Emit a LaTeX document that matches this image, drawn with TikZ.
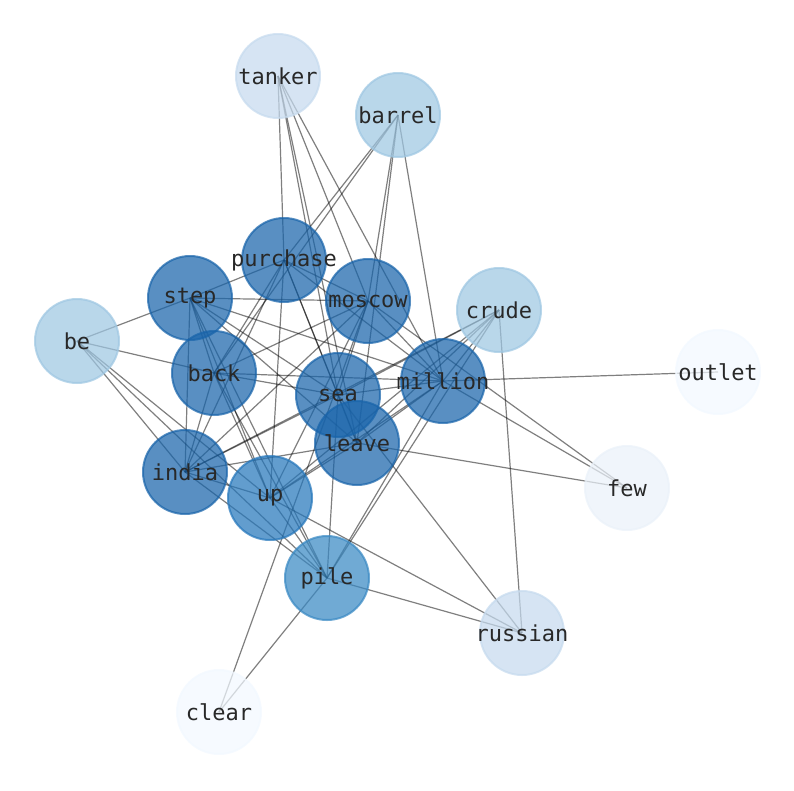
\documentclass[tikz,border=0pt]{standalone}
\usepackage{fontspec}
\setmonofont{DejaVu Sans Mono}
\definecolor{cdark}{RGB}{25,100,170}
\definecolor{cup}{RGB}{38,119,187}
\definecolor{cpile}{RGB}{57,137,195}
\definecolor{clight}{RGB}{158,199,226}
\definecolor{cpale}{RGB}{198,218,238}
\definecolor{cfaint}{RGB}{234,241,249}
\definecolor{cwhite}{RGB}{242,248,255}
\definecolor{cword}{RGB}{40,40,40}
\pgfdeclarelayer{edges}
\pgfsetlayers{edges,main}
\begin{document}
\begin{tikzpicture}[x=1pt, y=-1pt,
  word/.style={circle, minimum size=84pt, inner sep=0pt, line width=2pt,
    draw=#1, fill=#1, fill opacity=0.72, draw opacity=0.72, text opacity=1,
    text=cword, font=\ttfamily\fontsize{22}{26}\selectfont},
  link/.style={draw=black, draw opacity=0.5, line width=1.2pt}]
\useasboundingbox (0,0) rectangle (794,790);
\node[word=cpale] (tanker) at (278,76){\makebox[0pt]{tanker}};
\node[word=clight] (barrel) at (398,115){\makebox[0pt]{barrel}};
\node[word=cdark] (purchase) at (284,260){\makebox[0pt]{purchase}};
\node[word=cdark] (step) at (190,298){\makebox[0pt]{step}};
\node[word=cdark] (moscow) at (368,301){\makebox[0pt]{moscow}};
\node[word=clight] (crude) at (499,310){\makebox[0pt]{crude}};
\node[word=clight] (be) at (77,341){\makebox[0pt]{be}};
\node[word=cdark] (back) at (214,373){\makebox[0pt]{back}};
\node[word=cdark] (sea) at (338,395){\makebox[0pt]{sea}};
\node[word=cdark] (million) at (443,381){\makebox[0pt]{million}};
\node[word=cwhite] (outlet) at (718,372){\makebox[0pt]{outlet}};
\node[word=cdark] (leave) at (357,443){\makebox[0pt]{leave}};
\node[word=cdark] (india) at (185,472){\makebox[0pt]{india}};
\node[word=cup] (up) at (270,498){\makebox[0pt]{up}};
\node[word=cfaint] (few) at (627,488){\makebox[0pt]{few}};
\node[word=cpile] (pile) at (327,578){\makebox[0pt]{pile}};
\node[word=cpale] (russian) at (522,633){\makebox[0pt]{russian}};
\node[word=cwhite] (clear) at (219,712){\makebox[0pt]{clear}};
\begin{pgfonlayer}{edges}
\draw[link] (tanker.center) -- (purchase.center);
\draw[link] (tanker.center) -- (sea.center);
\draw[link] (tanker.center) -- (leave.center);
\draw[link] (tanker.center) -- (moscow.center);
\draw[link] (tanker.center) -- (million.center);
\draw[link] (barrel.center) -- (purchase.center);
\draw[link] (barrel.center) -- (back.center);
\draw[link] (barrel.center) -- (moscow.center);
\draw[link] (barrel.center) -- (leave.center);
\draw[link] (barrel.center) -- (million.center);
\draw[link] (be.center) -- (step.center);
\draw[link] (be.center) -- (back.center);
\draw[link] (be.center) -- (india.center);
\draw[link] (be.center) -- (up.center);
\draw[link] (be.center) -- (pile.center);
\draw[link] (step.center) -- (purchase.center);
\draw[link] (step.center) -- (moscow.center);
\draw[link] (step.center) -- (back.center);
\draw[link] (step.center) -- (sea.center);
\draw[link] (step.center) -- (million.center);
\draw[link] (step.center) -- (leave.center);
\draw[link] (step.center) -- (india.center);
\draw[link] (step.center) -- (up.center);
\draw[link] (step.center) -- (pile.center);
\draw[link] (purchase.center) -- (moscow.center);
\draw[link] (purchase.center) -- (back.center);
\draw[link] (purchase.center) -- (sea.center);
\draw[link] (purchase.center) -- (leave.center);
\draw[link] (purchase.center) -- (india.center);
\draw[link] (purchase.center) -- (up.center);
\draw[link] (purchase.center) -- (million.center);
\draw[link] (moscow.center) -- (back.center);
\draw[link] (moscow.center) -- (sea.center);
\draw[link] (moscow.center) -- (million.center);
\draw[link] (moscow.center) -- (india.center);
\draw[link] (moscow.center) -- (up.center);
\draw[link] (moscow.center) -- (few.center);
\draw[link] (moscow.center) -- (clear.center);
\draw[link] (crude.center) -- (million.center);
\draw[link] (crude.center) -- (sea.center);
\draw[link] (crude.center) -- (india.center);
\draw[link] (crude.center) -- (up.center);
\draw[link] (crude.center) -- (leave.center);
\draw[link] (crude.center) -- (pile.center);
\draw[link] (crude.center) -- (russian.center);
\draw[link] (back.center) -- (sea.center);
\draw[link] (back.center) -- (million.center);
\draw[link] (back.center) -- (india.center);
\draw[link] (back.center) -- (up.center);
\draw[link] (back.center) -- (pile.center);
\draw[link] (sea.center) -- (million.center);
\draw[link] (sea.center) -- (leave.center);
\draw[link] (sea.center) -- (india.center);
\draw[link] (sea.center) -- (pile.center);
\draw[link] (sea.center) -- (russian.center);
\draw[link] (million.center) -- (outlet.center);
\draw[link] (million.center) -- (leave.center);
\draw[link] (million.center) -- (few.center);
\draw[link] (million.center) -- (up.center);
\draw[link] (million.center) -- (pile.center);
\draw[link] (leave.center) -- (india.center);
\draw[link] (leave.center) -- (up.center);
\draw[link] (leave.center) -- (few.center);
\draw[link] (india.center) -- (up.center);
\draw[link] (india.center) -- (pile.center);
\draw[link] (up.center) -- (pile.center);
\draw[link] (up.center) -- (russian.center);
\draw[link] (pile.center) -- (russian.center);
\draw[link] (pile.center) -- (clear.center);
\end{pgfonlayer}
\end{tikzpicture}
\end{document}
